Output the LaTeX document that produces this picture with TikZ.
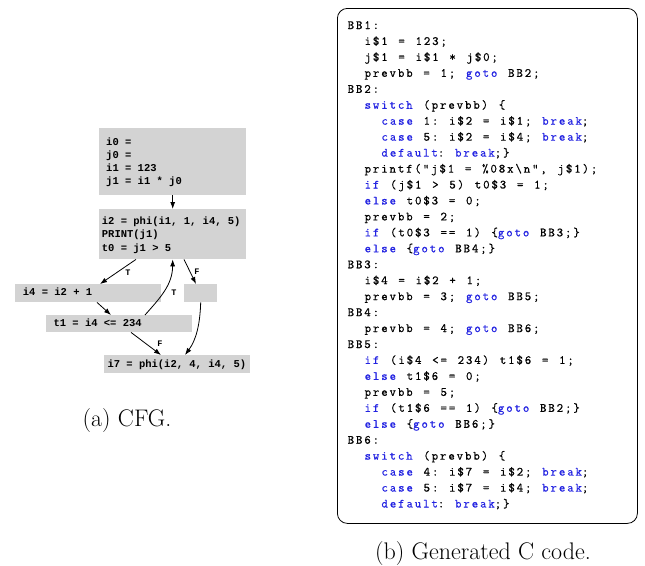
\documentclass[tikz,border=0pt]{standalone}
\usepackage{fontspec}
\usetikzlibrary{arrows.meta}

\newfontfamily\cfgfont{Liberation Mono}
\newfontfamily\codefont{Latin Modern Mono}[LetterSpace=15.1, WordSpace=1.2876, FakeBold=0.7]

\definecolor{boxgray}{RGB}{211,211,211}
\definecolor{kwblue}{RGB}{35,35,225}

\newcommand\kw[1]{\textcolor{kwblue}{#1}}
% one line of the generated C code: number, indent level, text
\newcommand\codeln[3]{\node[codeline] (c#1) at ({347.5+16.9*#2},{29+15.95*(#1-1)}) {#3};}

\begin{document}
\frenchspacing
\begin{tikzpicture}[x=1pt,y=-1pt,
  cfgbox/.style={fill=boxgray, draw=none, anchor=north west, inner sep=0pt},
  cfgtxt/.style={anchor=base west, inner sep=0pt, font=\cfgfont\bfseries\fontsize{10.5}{12}\selectfont\frenchspacing},
  tflab/.style={inner sep=0pt, font=\cfgfont\bfseries\fontsize{8.5}{10}\selectfont},
  edge/.style={-{Latex[length=7pt,width=5pt]}, line width=0.8pt},
  codeline/.style={anchor=base west, inner sep=0pt, font=\codefont\fontsize{12.5}{14}\selectfont\frenchspacing},
  caption/.style={anchor=base, inner sep=0pt, font=\fontsize{24}{28}\selectfont}]
\useasboundingbox (0,0) rectangle (645,565);

% ---- control flow graph ----
\node[cfgbox, minimum width=147pt, minimum height=67pt] (b1) at (99,128) {};
\node[cfgbox, minimum width=147pt, minimum height=50pt] (b2) at (99,209) {};
\node[cfgbox, minimum width=146pt, minimum height=18pt] (b3) at (15,284) {};
\node[cfgbox, minimum width=33pt,  minimum height=18pt] (b4) at (184,284) {};
\node[cfgbox, minimum width=146pt, minimum height=17pt] (b5) at (46,315) {};
\node[cfgbox, minimum width=146pt, minimum height=18pt] (b6) at (104,355) {};

\node[cfgtxt] (b1a) at (106,145) {i0 =};
\node[cfgtxt] (b1b) at (106,158.2) {j0 =};
\node[cfgtxt] (b1c) at (106,171.4) {i1 = 123};
\node[cfgtxt] (b1d) at (106,184.6) {j1 = i1 * j0};
\node[cfgtxt] (b2a) at (101.7,224) {i2 = phi(i1, 1, i4, 5)};
\node[cfgtxt] (b2b) at (101.7,237.5) {PRINT(j1)};
\node[cfgtxt] (b2c) at (101.7,251) {t0 = j1 > 5};
\node[cfgtxt] (b3a) at (22.7,295.7) {i4 = i2 + 1};
\node[cfgtxt] (b5a) at (53.3,326) {t1 = i4 <= 234};
\node[cfgtxt] (b6a) at (107.3,367.3) {i7 = phi(i2, 4, i4, 5)};

\draw[edge] (b1.south) -- (b2.north);
\draw[edge] ([xshift=37pt]b2.south west) -- ([xshift=85pt]b3.north west);
\draw[edge] ([xshift=85pt]b2.south west) -- ([xshift=12pt]b4.north west);
\draw[edge] ([xshift=82pt]b3.south west) -- ([xshift=65pt]b5.north west);
\draw[edge] ([xshift=99pt]b5.north west) .. controls (160,298) and (172.5,285) .. (b2.south);
\draw[edge] ([xshift=85pt]b5.south west) -- ([xshift=57pt]b6.north west);
\draw[edge] (b4.south) .. controls (200,325) and (196,340) .. ([xshift=81pt]b6.north west);

\node[tflab] (l1) at (128,273) {T};
\node[tflab] (l2) at (197,272) {F};
\node[tflab] (l3) at (174,293) {T};
\node[tflab] (l4) at (160,344) {F};

\node[caption] (capa) at (127,426) {(a) CFG.};

% ---- generated C code ----
\node[draw, line width=0.8pt, rounded corners=10pt, anchor=north west,
      minimum width=300pt, minimum height=515pt, inner sep=0pt] (code) at (337,8) {};

\codeln{1}{0}{BB1:}
\codeln{2}{1}{i\$1 = 123;}
\codeln{3}{1}{j\$1 = i\$1 * j\$0;}
\codeln{4}{1}{prevbb = 1; \kw{goto} BB2;}
\codeln{5}{0}{BB2:}
\codeln{6}{1}{\kw{switch} (prevbb) \{}
\codeln{7}{2}{\kw{case} 1: i\$2 = i\$1; \kw{break};}
\codeln{8}{2}{\kw{case} 5: i\$2 = i\$4; \kw{break};}
\codeln{9}{2}{\kw{default}: \kw{break};\}}
\codeln{10}{1}{printf("j\$1 = \%08x\textbackslash n", j\$1);}
\codeln{11}{1}{\kw{if} (j\$1 > 5) t0\$3 = 1;}
\codeln{12}{1}{\kw{else} t0\$3 = 0;}
\codeln{13}{1}{prevbb = 2;}
\codeln{14}{1}{\kw{if} (t0\$3 == 1) \{\kw{goto} BB3;\}}
\codeln{15}{1}{\kw{else} \{\kw{goto} BB4;\}}
\codeln{16}{0}{BB3:}
\codeln{17}{1}{i\$4 = i\$2 + 1;}
\codeln{18}{1}{prevbb = 3; \kw{goto} BB5;}
\codeln{19}{0}{BB4:}
\codeln{20}{1}{prevbb = 4; \kw{goto} BB6;}
\codeln{21}{0}{BB5:}
\codeln{22}{1}{\kw{if} (i\$4 <= 234) t1\$6 = 1;}
\codeln{23}{1}{\kw{else} t1\$6 = 0;}
\codeln{24}{1}{prevbb = 5;}
\codeln{25}{1}{\kw{if} (t1\$6 == 1) \{\kw{goto} BB2;\}}
\codeln{26}{1}{\kw{else} \{\kw{goto} BB6;\}}
\codeln{27}{0}{BB6:}
\codeln{28}{1}{\kw{switch} (prevbb) \{}
\codeln{29}{2}{\kw{case} 4: i\$7 = i\$2; \kw{break};}
\codeln{30}{2}{\kw{case} 5: i\$7 = i\$4; \kw{break};}
\codeln{31}{2}{\kw{default}: \kw{break};\}}

\node[caption] (capb) at (483,559) {(b) Generated C code.};
\end{tikzpicture}
\end{document}
